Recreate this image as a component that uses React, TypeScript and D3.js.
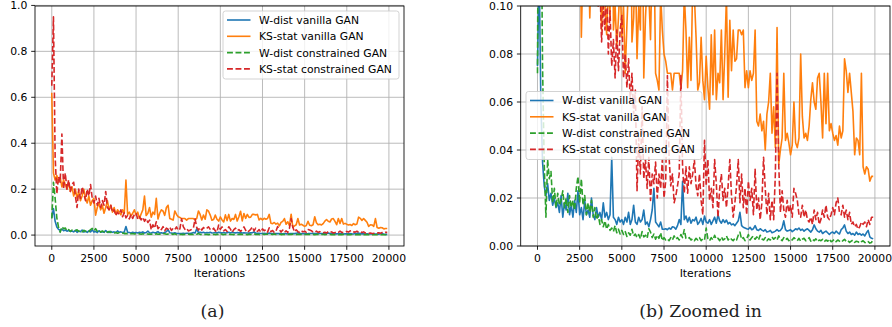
import React from 'react';
import * as d3 from 'd3';

// Logged every 100 training iterations
const ITERATIONS: number[] = d3.range(0, 20000, 100);

const W_DIST_VANILLA: number[] = [
  0.075, 0.115, 0.06, 0.035, 0.025, 0.021, 0.026, 0.019, 0.022, 0.017, 0.02, 0.016, 0.018, 0.014, 0.021, 0.012, 0.018, 0.015, 0.022, 0.013, 0.017, 0.012, 0.019, 0.014, 0.023,
  0.013, 0.016, 0.011, 0.019, 0.013, 0.015, 0.012, 0.02, 0.013, 0.011, 0.016, 0.012, 0.014, 0.011, 0.018, 0.012, 0.014, 0.011, 0.013, 0.037, 0.012, 0.011, 0.009, 0.012, 0.01,
  0.011, 0.009, 0.012, 0.01, 0.014, 0.009, 0.011, 0.017, 0.01, 0.009, 0.012, 0.01, 0.011, 0.015, 0.009, 0.01, 0.008, 0.011, 0.015, 0.024, 0.01, 0.009, 0.008, 0.01, 0.007,
  0.007, 0.0072, 0.0068, 0.0075, 0.007, 0.008, 0.0078, 0.007, 0.0085, 0.011, 0.009, 0.027, 0.011, 0.0125, 0.01, 0.012, 0.0095, 0.011, 0.0105, 0.012, 0.009, 0.01, 0.0115, 0.009, 0.0125,
  0.01, 0.0095, 0.011, 0.009, 0.0105, 0.012, 0.0095, 0.013, 0.0105, 0.0095, 0.011, 0.0098, 0.0108, 0.0092, 0.0098, 0.0088, 0.0092, 0.0085, 0.0095, 0.0105, 0.014, 0.0085, 0.0078, 0.0075, 0.0072,
  0.007, 0.0078, 0.0068, 0.0072, 0.0085, 0.0068, 0.0065, 0.0072, 0.0066, 0.0062, 0.0068, 0.0058, 0.006, 0.0065, 0.0055, 0.0058, 0.0062, 0.0068, 0.0062, 0.0065, 0.0075, 0.0105, 0.0068, 0.0062, 0.0065,
  0.0068, 0.006, 0.0065, 0.0072, 0.0068, 0.0075, 0.0065, 0.007, 0.0062, 0.0068, 0.0072, 0.0065, 0.0058, 0.0068, 0.0088, 0.0072, 0.0062, 0.0058, 0.0065, 0.0052, 0.0058, 0.0062, 0.0055, 0.0048, 0.0055,
  0.0058, 0.0052, 0.0062, 0.0055, 0.005, 0.0068, 0.0075, 0.0088, 0.0062, 0.0052, 0.0058, 0.0048, 0.0052, 0.0045, 0.0058, 0.0048, 0.0052, 0.0045, 0.005, 0.0042, 0.0055, 0.0065, 0.0038, 0.0032, 0.003,
];

const KS_STAT_VANILLA: number[] = [
  0.62, 0.27, 0.24, 0.26, 0.23, 0.25, 0.21, 0.24, 0.22, 0.2, 0.23, 0.19, 0.21, 0.17, 0.2, 0.16, 0.19, 0.15, 0.17, 0.2, 0.16, 0.14, 0.17, 0.13, 0.15,
  0.16, 0.087, 0.12, 0.14, 0.11, 0.13, 0.095, 0.12, 0.15, 0.11, 0.13, 0.1, 0.12, 0.09, 0.11, 0.1, 0.088, 0.11, 0.095, 0.24, 0.09, 0.1, 0.083, 0.095, 0.11,
  0.087, 0.1, 0.072, 0.092, 0.11, 0.17, 0.085, 0.095, 0.12, 0.078, 0.1, 0.09, 0.16, 0.07, 0.095, 0.11, 0.105, 0.086, 0.12, 0.13, 0.072, 0.069, 0.065, 0.105, 0.09,
  0.08, 0.077, 0.072, 0.072, 0.072, 0.065, 0.072, 0.072, 0.072, 0.072, 0.066, 0.073, 0.105, 0.09, 0.066, 0.087, 0.069, 0.11, 0.104, 0.087, 0.065, 0.068, 0.087, 0.069, 0.061,
  0.079, 0.066, 0.057, 0.088, 0.063, 0.09, 0.061, 0.072, 0.068, 0.09, 0.061, 0.08, 0.104, 0.062, 0.094, 0.073, 0.09, 0.077, 0.078, 0.09, 0.09, 0.088, 0.09, 0.066, 0.073,
  0.066, 0.073, 0.069, 0.072, 0.09, 0.052, 0.05, 0.055, 0.048, 0.052, 0.04, 0.055, 0.06, 0.072, 0.047, 0.058, 0.041, 0.091, 0.034, 0.04, 0.045, 0.072, 0.044, 0.047, 0.043,
  0.038, 0.042, 0.06, 0.043, 0.041, 0.045, 0.08, 0.054, 0.045, 0.047, 0.044, 0.05, 0.061, 0.068, 0.06, 0.057, 0.07, 0.072, 0.06, 0.045, 0.072, 0.051, 0.072, 0.048, 0.051,
  0.047, 0.044, 0.046, 0.042, 0.05, 0.045, 0.048, 0.078, 0.073, 0.064, 0.072, 0.064, 0.056, 0.038, 0.045, 0.044, 0.038, 0.072, 0.033, 0.03, 0.033, 0.032, 0.027, 0.029, 0.029,
];

const W_DIST_CONSTRAINED: number[] = [
  0.072, 0.23, 0.16, 0.075, 0.034, 0.012, 0.036, 0.028, 0.031, 0.018, 0.024, 0.016, 0.022, 0.017, 0.019, 0.023, 0.016, 0.02, 0.014, 0.021, 0.016, 0.019, 0.015, 0.024, 0.029,
  0.018, 0.028, 0.017, 0.021, 0.013, 0.018, 0.014, 0.019, 0.012, 0.016, 0.011, 0.013, 0.009, 0.011, 0.008, 0.0105, 0.007, 0.009, 0.0065, 0.0075, 0.006, 0.0085, 0.0055, 0.007, 0.005,
  0.0065, 0.0048, 0.006, 0.004, 0.0055, 0.0045, 0.007, 0.0042, 0.005, 0.0035, 0.0048, 0.003, 0.006, 0.0038, 0.0045, 0.0032, 0.0072, 0.0058, 0.0035, 0.005, 0.0028, 0.0045, 0.0032, 0.0055, 0.0022,
  0.0035, 0.0025, 0.003, 0.0022, 0.0035, 0.0025, 0.0042, 0.0028, 0.0035, 0.0025, 0.0048, 0.0035, 0.0068, 0.0032, 0.0028, 0.0035, 0.0025, 0.003, 0.0022, 0.0032, 0.0025, 0.0035, 0.0022, 0.003, 0.0025,
  0.0075, 0.003, 0.0022, 0.0035, 0.0025, 0.0045, 0.0028, 0.0032, 0.0022, 0.0038, 0.0025, 0.003, 0.0042, 0.0025, 0.0035, 0.0028, 0.0022, 0.0032, 0.0025, 0.0045, 0.0058, 0.0028, 0.0035, 0.0022, 0.003,
  0.0048, 0.0025, 0.0035, 0.0042, 0.0028, 0.0038, 0.0025, 0.0045, 0.003, 0.0025, 0.0035, 0.0022, 0.003, 0.0025, 0.0038, 0.0028, 0.0035, 0.0025, 0.0042, 0.0028, 0.0022, 0.0035, 0.0025, 0.0032, 0.0022,
  0.003, 0.0025, 0.0035, 0.0028, 0.0022, 0.0032, 0.002, 0.0028, 0.0032, 0.0022, 0.0025, 0.0035, 0.002, 0.0028, 0.0022, 0.003, 0.0018, 0.0025, 0.0022, 0.0028, 0.0018, 0.0025, 0.002, 0.003, 0.0018,
  0.0022, 0.0028, 0.0018, 0.0025, 0.002, 0.0015, 0.0022, 0.0028, 0.0018, 0.0022, 0.0015, 0.002, 0.0025, 0.0015, 0.002, 0.0018, 0.0012, 0.0018, 0.0022, 0.0015, 0.0012, 0.0018, 0.0012, 0.0015, 0.0028,
];

const KS_STAT_CONSTRAINED: number[] = [
  0.65, 0.95, 0.34, 0.18, 0.255, 0.23, 0.44, 0.2, 0.27, 0.2, 0.24, 0.19, 0.22, 0.23, 0.17, 0.12, 0.2, 0.16, 0.21, 0.18, 0.15, 0.2, 0.17, 0.22, 0.16,
  0.14, 0.17, 0.13, 0.16, 0.12, 0.15, 0.13, 0.19, 0.12, 0.11, 0.13, 0.1, 0.11, 0.085, 0.1, 0.09, 0.11, 0.08, 0.098, 0.075, 0.086, 0.07, 0.09, 0.073, 0.09,
  0.096, 0.07, 0.08, 0.066, 0.078, 0.06, 0.072, 0.055, 0.065, 0.023, 0.045, 0.03, 0.058, 0.028, 0.036, 0.024, 0.037, 0.019, 0.03, 0.026, 0.035, 0.02, 0.03, 0.024, 0.036,
  0.02, 0.027, 0.071, 0.037, 0.025, 0.03, 0.018, 0.021, 0.025, 0.03, 0.071, 0.033, 0.022, 0.033, 0.022, 0.033, 0.026, 0.03, 0.036, 0.025, 0.021, 0.03, 0.019, 0.013, 0.044,
  0.025, 0.036, 0.019, 0.024, 0.016, 0.036, 0.026, 0.012, 0.024, 0.03, 0.019, 0.024, 0.016, 0.025, 0.036, 0.021, 0.012, 0.018, 0.025, 0.036, 0.018, 0.03, 0.016, 0.024, 0.013,
  0.027, 0.019, 0.024, 0.013, 0.032, 0.015, 0.02, 0.011, 0.018, 0.037, 0.024, 0.013, 0.022, 0.011, 0.019, 0.011, 0.03, 0.072, 0.034, 0.014, 0.023, 0.015, 0.012, 0.019, 0.014,
  0.017, 0.012, 0.024, 0.022, 0.019, 0.013, 0.012, 0.017, 0.012, 0.015, 0.011, 0.01, 0.012, 0.009, 0.015, 0.011, 0.014, 0.009, 0.011, 0.015, 0.012, 0.017, 0.012, 0.011, 0.013,
  0.016, 0.013, 0.018, 0.02, 0.014, 0.013, 0.017, 0.012, 0.015, 0.011, 0.014, 0.009, 0.01, 0.008, 0.009, 0.007, 0.008, 0.01, 0.009, 0.01, 0.008, 0.011, 0.009, 0.012, 0.012,
];

const SERIES_LABELS: string[] = [
  'W-dist vanilla GAN',
  'KS-stat vanilla GAN',
  'W-dist constrained GAN',
  'KS-stat constrained GAN',
];
const SERIES_VALUES: number[][] = [W_DIST_VANILLA, KS_STAT_VANILLA, W_DIST_CONSTRAINED, KS_STAT_CONSTRAINED];
const SERIES_COLORS = ['#1f77b4', '#ff7f0e', '#2ca02c', '#d62728'];
const SERIES_DASHED = [false, false, true, true];

const X_TICKS: number[] = [0, 2500, 5000, 7500, 10000, 12500, 15000, 17500, 20000];
const Y_TICKS_FULL: number[] = [0, 0.2, 0.4, 0.6, 0.8, 1.0];
const Y_TICKS_ZOOM: number[] = [0, 0.02, 0.04, 0.06, 0.08, 0.1];
const X_LABEL = 'Iterations';
const CAPTIONS: string[] = ['(a)', '(b) Zoomed in'];

const WIDTH = 892;
const HEIGHT = 327;
const FONT = "'DejaVu Sans', sans-serif";
const CAPTION_FONT = "'DejaVu Serif', serif";
const FS = 10.8;
const TICK_LEN = 3.8;
const THIN = 0.86;
const LINE_W = 1.6;
const DASH = '5.9,2.6';
const X_DOMAIN: [number, number] = [-995, 20895];

type PanelProps = {
  id: string;
  left: number;
  right: number;
  top: number;
  bottom: number;
  yDomain: [number, number];
  yTicks: number[];
  yFormat: (v: number) => string;
  legendX: number;
  legendY: number;
};

function Legend({ x, y }: { x: number; y: number }) {
  const w = 176;
  const h = 68;
  return (
    <g>
      <rect x={x} y={y} width={w} height={h} rx={2.5} ry={2.5} fill="#ffffff" fillOpacity={0.8} stroke="#cccccc" strokeWidth={THIN} />
      {SERIES_LABELS.map((label, i) => {
        const cy = y + 9 + 16.3 * i;
        return (
          <g key={label}>
            <line
              x1={x + 4}
              x2={x + 27.5}
              y1={cy}
              y2={cy}
              stroke={SERIES_COLORS[i]}
              strokeWidth={LINE_W}
              strokeDasharray={SERIES_DASHED[i] ? DASH : undefined}
            />
            <text x={x + 36} y={cy + 3.9} fontFamily={FONT} fontSize={FS} fill="#000">
              {label}
            </text>
          </g>
        );
      })}
    </g>
  );
}

function Panel(p: PanelProps) {
  const x = d3.scaleLinear().domain(X_DOMAIN).range([p.left, p.right]);
  const y = d3.scaleLinear().domain(p.yDomain).range([p.bottom, p.top]);
  const midX = (p.left + p.right) / 2;

  return (
    <g>
      <defs>
        <clipPath id={p.id}>
          <rect x={p.left} y={p.top} width={p.right - p.left} height={p.bottom - p.top} />
        </clipPath>
      </defs>

      {/* grid */}
      <g stroke="#b0b0b0" strokeWidth={THIN}>
        {X_TICKS.map((t) => (
          <line key={`gx${t}`} x1={x(t)} x2={x(t)} y1={p.top} y2={p.bottom} />
        ))}
        {p.yTicks.map((t) => (
          <line key={`gy${t}`} x1={p.left} x2={p.right} y1={y(t)} y2={y(t)} />
        ))}
      </g>

      {/* series */}
      <g clipPath={`url(#${p.id})`}>
        {SERIES_VALUES.map((vals, i) => {
          const line = d3
            .line<number>()
            .x((_, j) => x(ITERATIONS[j]))
            .y((v) => y(v));
          return (
            <path
              key={SERIES_LABELS[i]}
              d={line(vals) ?? ''}
              fill="none"
              stroke={SERIES_COLORS[i]}
              strokeWidth={LINE_W}
              strokeLinejoin="round"
              strokeDasharray={SERIES_DASHED[i] ? DASH : undefined}
            />
          );
        })}
      </g>

      {/* spines */}
      <rect x={p.left} y={p.top} width={p.right - p.left} height={p.bottom - p.top} fill="none" stroke="#000" strokeWidth={THIN} />

      {/* x ticks */}
      {X_TICKS.map((t) => (
        <g key={`tx${t}`}>
          <line x1={x(t)} x2={x(t)} y1={p.bottom} y2={p.bottom + TICK_LEN} stroke="#000" strokeWidth={THIN} />
          <text x={x(t)} y={p.bottom + 16.2} textAnchor="middle" fontFamily={FONT} fontSize={FS} fill="#000">
            {String(t)}
          </text>
        </g>
      ))}

      {/* y ticks */}
      {p.yTicks.map((t) => (
        <g key={`ty${t}`}>
          <line x1={p.left - TICK_LEN} x2={p.left} y1={y(t)} y2={y(t)} stroke="#000" strokeWidth={THIN} />
          <text x={p.left - TICK_LEN - 3.8} y={y(t) + 3.9} textAnchor="end" fontFamily={FONT} fontSize={FS} fill="#000">
            {p.yFormat(t)}
          </text>
        </g>
      ))}

      <text x={midX} y={p.bottom + 31} textAnchor="middle" fontFamily={FONT} fontSize={FS} fill="#000">
        {X_LABEL}
      </text>

      <Legend x={p.legendX} y={p.legendY} />
    </g>
  );
}

export default function App() {
  return (
    <svg
      width={WIDTH}
      height={HEIGHT}
      viewBox={`0 0 ${WIDTH} ${HEIGHT}`}
      style={{ position: 'absolute', left: 0, top: 0, background: '#fff' }}
    >
      <rect width={WIDTH} height={HEIGHT} fill="#fff" />
      <Panel
        id="clip-full"
        left={35}
        right={404}
        top={6}
        bottom={246}
        yDomain={[-0.0475, 0.9975]}
        yTicks={Y_TICKS_FULL}
        yFormat={d3.format('.1f')}
        legendX={223}
        legendY={11}
      />
      <Panel
        id="clip-zoom"
        left={520.7}
        right={890}
        top={6}
        bottom={246}
        yDomain={[0, 0.1]}
        yTicks={Y_TICKS_ZOOM}
        yFormat={d3.format('.2f')}
        legendX={526}
        legendY={91.5}
      />
      <text x={212.5} y={317} textAnchor="middle" fontFamily={CAPTION_FONT} fontSize={17.3} fill="#222">
        {CAPTIONS[0]}
      </text>
      <text x={700.5} y={317} textAnchor="middle" fontFamily={CAPTION_FONT} fontSize={17.3} fill="#222">
        {CAPTIONS[1]}
      </text>
    </svg>
  );
}
